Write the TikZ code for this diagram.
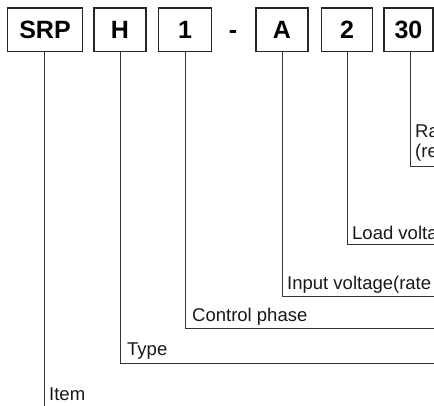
\documentclass[tikz,border=0pt]{standalone}
\usepackage{fontspec}
\setmainfont{Liberation Sans}
\begin{document}
\begin{tikzpicture}[x=1pt,y=-1pt,
  codebox/.style={draw=black!85,line width=1.1pt,inner sep=0pt,minimum height=43.5pt,
    font=\fontsize{25}{27}\selectfont\bfseries,text height=18pt,text depth=0pt},
  lead/.style={draw=black!80,line width=1pt},
  lbl/.style={anchor=base west,inner sep=0pt,font=\fontsize{18.5}{20}\selectfont,text=black!90}]
\clip (0,0) rectangle (434,406);
\fill[white] (0,0) rectangle (434,406);
% code boxes
\node[codebox,minimum width=75pt] (srp) at (45,29.8) {SRP};
\node[codebox,minimum width=52pt] (h) at (120,29.8) {H};
\node[codebox,minimum width=53pt] (one) at (185,29.8) {1};
\node[anchor=base,inner sep=0pt,font=\fontsize{25}{27}\selectfont\bfseries] (dash) at (233,38.5) {-};
\node[codebox,minimum width=52pt] (a) at (282,29.8) {A};
\node[codebox,minimum width=51pt] (two) at (347,29.8) {2};
\node[codebox,minimum width=49pt] (thirty) at (408.5,29.8) {30};
% free ends of the leads
\coordinate (itemend) at (44,410);
\coordinate (typeend) at (440,363);
\coordinate (ctrlend) at (440,328);
\coordinate (inend) at (440,297);
\coordinate (loadend) at (440,245);
\coordinate (curend) at (440,167);
% leads
\draw[lead] (srp.south -| itemend) -- (itemend);
\draw[lead] (h.south) |- (typeend);
\draw[lead] (one.south) |- (ctrlend);
\draw[lead] (a.south) |- (inend);
\draw[lead] (two.south) |- (loadend);
\draw[lead] ([xshift=2pt]thirty.south) |- (curend);
% labels (cut off at the right edge, as printed)
\node[lbl] (litem) at (49,400) {Item};
\node[lbl] (ltype) at (127,355) {Type};
\node[lbl] (lctrl) at (192,321) {Control phase};
\node[lbl] (lin) at (287,290) {Input voltage(rate};
\node[lbl] (lload) at (352,240) {Load volta};
\node[lbl] (lcur1) at (415,138) {Ra};
\node[lbl] (lcur2) at (415,158) {(re};
\end{tikzpicture}
\end{document}
